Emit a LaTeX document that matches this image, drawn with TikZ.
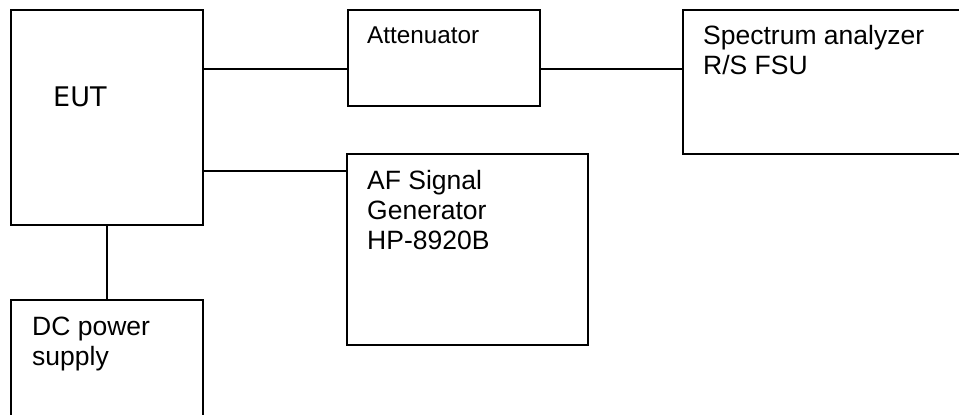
\documentclass[tikz,border=0pt]{standalone}
\usepackage{fontspec}
\setmainfont{Liberation Sans}
\newfontfamily\eutfont{DejaVu Sans}
\usetikzlibrary{positioning}

\tikzset{
  unit/.style={draw, line width=2pt, anchor=north west, inner sep=0pt},
  tag/.style={anchor=north west, inner sep=0pt, align=left,
              font=\fontsize{26.5}{30}\selectfont},
  wire/.style={line width=1.3pt},
}

\begin{document}
\begin{tikzpicture}[x=1pt, y=-1pt]
    % --- 1. canvas (boxes run past the right and bottom edge) ---
    \useasboundingbox (0,0) rectangle (959,415);
    \clip (0,0) rectangle (959,415);
    \def\yAtt{69}
    \def\yGen{171}

    % --- 2. boxes ---
    \node[unit, minimum width=192pt, minimum height=215pt,
          label={[tag, font=\eutfont\fontsize{27}{32}\selectfont,
                  xshift=43pt, yshift=-78pt]north west:EUT}] (eut) at (10,9) {};
    \node[unit, minimum width=192pt, minimum height=96pt,
          label={[tag, font=\fontsize{24.3}{30}\selectfont,
                  xshift=20pt, yshift=-18pt]north west:Attenuator}] (att) at (347,9) {};
    \node[unit, minimum width=300pt, minimum height=144pt,
          label={[tag, xshift=21pt, yshift=-16pt]north west:Spectrum analyzer\\R/S FSU}] (spec) at (682,9) {};
    \node[unit, minimum width=241pt, minimum height=191pt,
          label={[tag, xshift=21pt, yshift=-17pt]north west:AF Signal\\Generator\\HP-8920B}] (gen) at (346,153) {};
    \node[unit, minimum width=192pt, minimum height=150pt,
          label={[tag, xshift=22pt, yshift=-18pt]north west:DC power\\supply}] (dc) at (10,299) {};

    % --- 3. connections ---
    \draw[wire] (eut.east |- 0,\yAtt) -- (att.west |- 0,\yAtt);
    \draw[wire] (att.east |- 0,\yAtt) -- (spec.west |- 0,\yAtt);
    \draw[wire] (eut.east |- 0,\yGen) -- (gen.west |- 0,\yGen);
    \draw[wire] (eut.south) -- (dc.north);
\end{tikzpicture}
\end{document}
